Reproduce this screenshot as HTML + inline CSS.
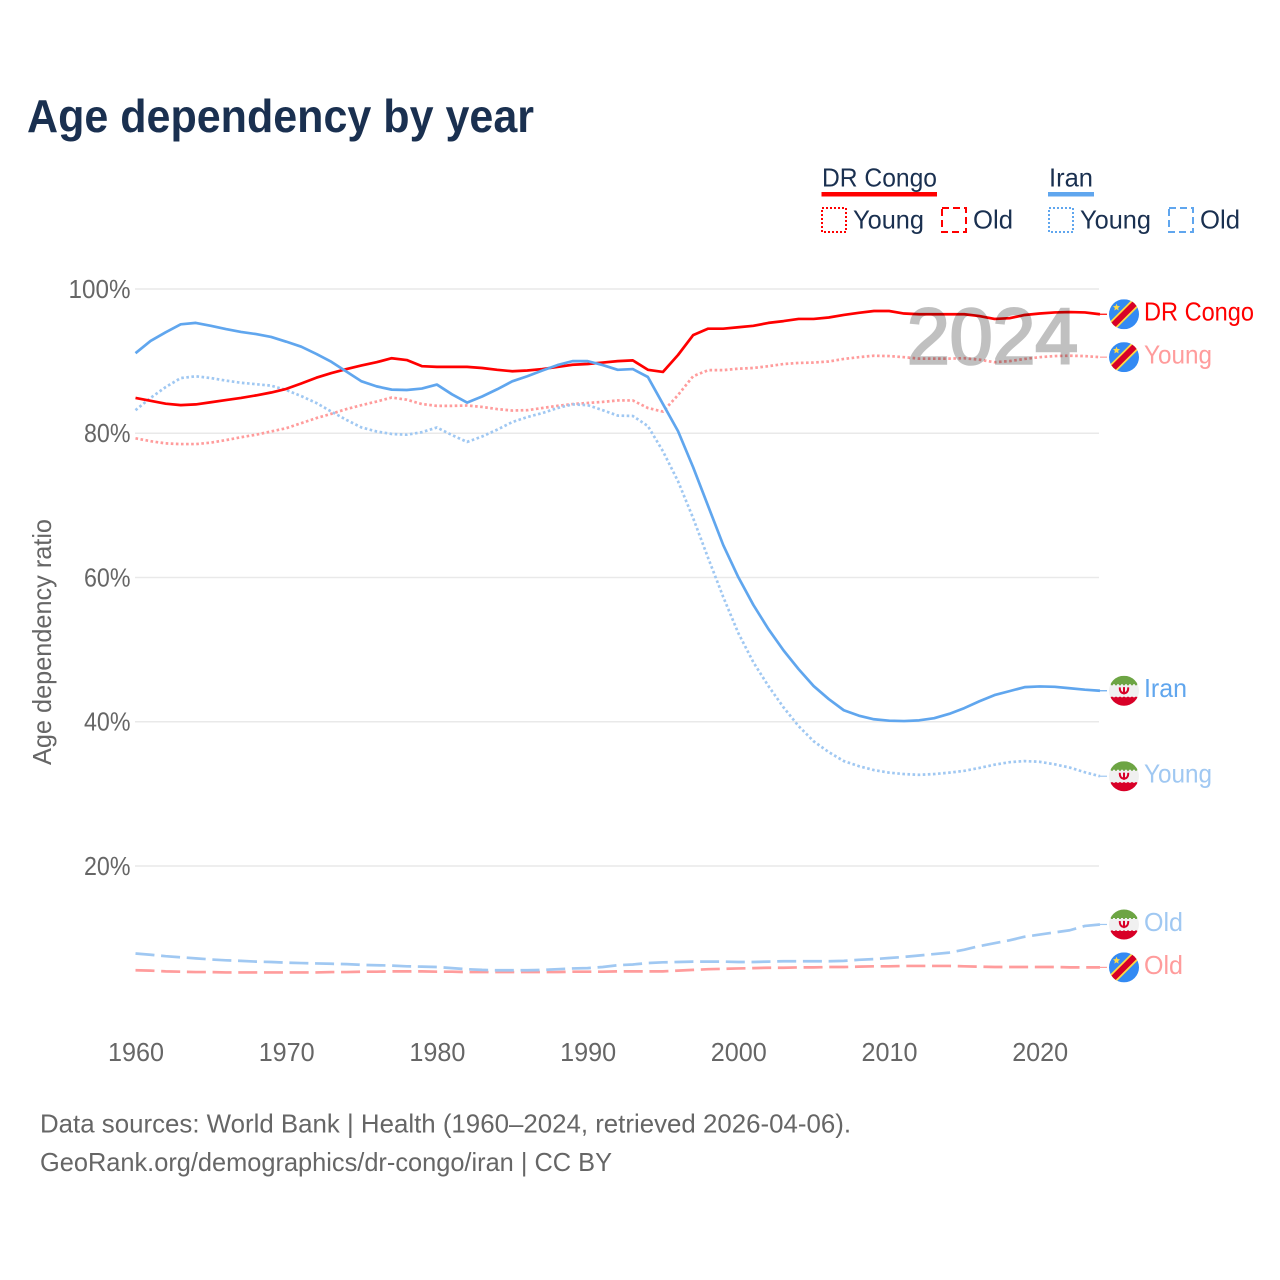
<!DOCTYPE html>
<html lang="en">
<head>
<meta charset="utf-8">
<title>Age dependency by year</title>
<style>
  html, body { margin: 0; padding: 0; background: #fff; }
  svg { display: block; font-family: "Liberation Sans", "DejaVu Sans", sans-serif; }
</style>
</head>
<body>
<svg id="chart" xmlns="http://www.w3.org/2000/svg" width="1280" height="1280" viewBox="0 0 1280 1280">
  <defs>
    <clipPath id="flag-clip"><circle cx="0" cy="0" r="15"></circle></clipPath>
    <symbol id="flag-drc" overflow="visible" viewBox="-15 -15 30 30" width="30" height="30">
      <g clip-path="url(#flag-clip)">
        <rect x="-15" y="-15" width="30" height="30" fill="#338af3"></rect>
        <line x1="-18" y1="18" x2="18" y2="-18" stroke="#ffda44" stroke-width="9.5"></line>
        <line x1="-18" y1="18" x2="18" y2="-18" stroke="#d80027" stroke-width="6"></line>
        <polygon points="-7.5,-10.6 -6.5,-8.2 -4,-8 -5.9,-6.3 -5.3,-3.8 -7.5,-5.1 -9.7,-3.8 -9.1,-6.3 -11,-8 -8.5,-8.2" fill="#ffda44"></polygon>
      </g>
    </symbol>
    <symbol id="flag-iran" overflow="visible" viewBox="-15 -15 30 30" width="30" height="30">
      <g clip-path="url(#flag-clip)">
        <rect x="-15" y="-15" width="30" height="30" fill="#f0f0f0"></rect>
        <rect x="-15" y="-15" width="30" height="9.5" fill="#6da544"></rect>
        <rect x="-15" y="6" width="30" height="10" fill="#d80027"></rect>
        <line x1="-15" y1="-5.5" x2="15" y2="-5.5" stroke="#f0f0f0" stroke-width="2" stroke-dasharray="2 2"></line>
        <line x1="-15" y1="5.5" x2="15" y2="5.5" stroke="#f0f0f0" stroke-width="2" stroke-dasharray="2 2"></line>
        <path d="M-4.2,-3.4 C-4.4,1 -2.2,2.4 0,2.4 C2.2,2.4 4.4,1 4.2,-3.4 M0,-3.6 L0,3.6" fill="none" stroke="#d80027" stroke-width="2"></path>
      </g>
    </symbol>
  </defs>

  <text x="27" y="132" font-size="46" font-weight="700" fill="#1a3050" textLength="507" lengthAdjust="spacingAndGlyphs">Age dependency by year</text>

  <g>
    <text x="822" y="186.5" font-size="26" fill="#1a3050" textLength="115" lengthAdjust="spacingAndGlyphs">DR Congo</text>
    <rect x="821.5" y="192" width="115.5" height="4.5" fill="#ff0000"></rect>
    <rect x="822" y="208" width="24" height="24" fill="none" stroke="#ff0000" stroke-width="2" stroke-dasharray="2 2"></rect>
    <text x="853" y="228.5" font-size="26" fill="#1a3050" textLength="71" lengthAdjust="spacingAndGlyphs">Young</text>
    <rect x="942" y="208" width="24" height="24" fill="none" stroke="#ff0000" stroke-width="2" stroke-dasharray="7 4"></rect>
    <text x="973" y="228.5" font-size="26" fill="#1a3050" textLength="40" lengthAdjust="spacingAndGlyphs">Old</text>

    <text x="1049" y="186.5" font-size="26" fill="#1a3050" textLength="44" lengthAdjust="spacingAndGlyphs">Iran</text>
    <rect x="1048" y="192" width="46" height="4.5" fill="#60a6ee"></rect>
    <rect x="1049" y="208" width="24" height="24" fill="none" stroke="#60a6ee" stroke-width="2" stroke-dasharray="2 2"></rect>
    <text x="1080" y="228.5" font-size="26" fill="#1a3050" textLength="71" lengthAdjust="spacingAndGlyphs">Young</text>
    <rect x="1169" y="208" width="24" height="24" fill="none" stroke="#60a6ee" stroke-width="2" stroke-dasharray="7 4"></rect>
    <text x="1200" y="228.5" font-size="26" fill="#1a3050" textLength="40" lengthAdjust="spacingAndGlyphs">Old</text>
  </g>

  <text transform="translate(51,765) rotate(-90)" font-size="26" fill="#666666" textLength="246" lengthAdjust="spacingAndGlyphs">Age dependency ratio</text>

  <g id="grid"></g>
  <g id="y-ticks"></g>
  <g id="x-ticks"></g>
  <g id="series"></g>
  <g id="end-labels"></g>

  <text x="907" y="363.5" font-size="79" fill="#000000" stroke="#000000" stroke-width="2.6" opacity="0.245" textLength="171" lengthAdjust="spacingAndGlyphs">2024</text>

  <text x="40" y="1132.5" font-size="26" fill="#666666" textLength="811" lengthAdjust="spacingAndGlyphs">Data sources: World Bank | Health (1960–2024, retrieved 2026-04-06).</text>
  <text x="40" y="1171" font-size="26" fill="#666666" textLength="572" lengthAdjust="spacingAndGlyphs">GeoRank.org/demographics/dr-congo/iran | CC BY</text>
</svg>

<script>
const years = [1960,1961,1962,1963,1964,1965,1966,1967,1968,1969,1970,1971,1972,1973,1974,1975,1976,1977,1978,1979,1980,1981,1982,1983,1984,1985,1986,1987,1988,1989,1990,1991,1992,1993,1994,1995,1996,1997,1998,1999,2000,2001,2002,2003,2004,2005,2006,2007,2008,2009,2010,2011,2012,2013,2014,2015,2016,2017,2018,2019,2020,2021,2022,2023,2024];
const drCongoTotal = [84.9,84.5,84.1,83.9,84.0,84.3,84.6,84.9,85.25,85.65,86.15,86.9,87.7,88.35,88.9,89.4,89.85,90.4,90.15,89.3,89.2,89.2,89.2,89.05,88.8,88.6,88.7,88.9,89.2,89.5,89.6,89.8,90.0,90.1,88.8,88.5,90.85,93.6,94.5,94.5,94.7,94.9,95.3,95.55,95.85,95.85,96.05,96.4,96.7,96.95,96.95,96.6,96.5,96.5,96.5,96.5,96.25,95.85,95.95,96.4,96.6,96.75,96.8,96.75,96.5];
const drCongoYoung = [79.3,78.9,78.6,78.5,78.5,78.7,79.05,79.45,79.8,80.25,80.7,81.4,82.1,82.7,83.35,83.9,84.4,84.95,84.65,84.05,83.8,83.8,83.85,83.65,83.35,83.15,83.2,83.5,83.8,84.05,84.2,84.35,84.55,84.55,83.5,83.0,85.3,87.9,88.75,88.75,88.95,89.05,89.3,89.6,89.75,89.8,89.95,90.3,90.55,90.75,90.7,90.55,90.35,90.35,90.35,90.4,90.2,89.85,90.0,90.3,90.55,90.7,90.75,90.7,90.55];
const drCongoOld = [5.55,5.5,5.4,5.35,5.3,5.3,5.25,5.25,5.25,5.25,5.25,5.25,5.25,5.3,5.3,5.35,5.35,5.4,5.4,5.4,5.35,5.35,5.3,5.3,5.3,5.3,5.3,5.3,5.3,5.35,5.35,5.35,5.4,5.4,5.4,5.4,5.5,5.6,5.7,5.75,5.8,5.85,5.9,5.9,5.95,5.95,6.0,6.0,6.05,6.1,6.1,6.15,6.15,6.15,6.15,6.1,6.05,6.0,6.0,6.0,6.0,6.0,5.95,5.95,5.95];
const iranTotal = [91.1,92.8,94.0,95.1,95.3,94.9,94.45,94.05,93.75,93.35,92.7,92.0,91.0,89.9,88.55,87.2,86.5,86.05,86.0,86.2,86.75,85.4,84.25,85.1,86.1,87.2,87.9,88.7,89.45,90.0,90.0,89.45,88.8,88.9,87.8,84.05,80.3,75.3,69.9,64.5,60.05,56.2,52.85,49.9,47.3,44.95,43.15,41.6,40.85,40.35,40.15,40.1,40.2,40.5,41.1,41.9,42.85,43.7,44.25,44.8,44.9,44.85,44.65,44.45,44.3];
const iranYoung = [83.2,84.9,86.4,87.65,87.9,87.65,87.3,87.0,86.8,86.6,86.0,85.15,84.2,83.0,81.85,80.8,80.25,79.9,79.8,80.15,80.8,79.75,78.8,79.55,80.5,81.55,82.25,82.8,83.5,84.0,83.9,83.2,82.45,82.4,81.0,77.5,73.35,68.25,62.7,57.3,52.3,48.25,44.95,42.0,39.4,37.3,35.8,34.55,33.85,33.3,32.95,32.75,32.65,32.75,32.95,33.2,33.6,34.05,34.4,34.55,34.45,34.1,33.65,33.0,32.45];
const iranOld = [7.87,7.7,7.5,7.35,7.2,7.05,6.93,6.85,6.75,6.7,6.6,6.55,6.5,6.45,6.4,6.3,6.25,6.2,6.1,6.05,6.0,5.85,5.7,5.6,5.55,5.55,5.55,5.6,5.7,5.8,5.85,6.0,6.25,6.35,6.55,6.65,6.7,6.75,6.75,6.75,6.7,6.7,6.75,6.8,6.8,6.8,6.8,6.85,7.0,7.1,7.25,7.4,7.6,7.8,8.0,8.4,8.9,9.3,9.7,10.2,10.5,10.8,11.1,11.7,11.9];
const yTickValues = [20,40,60,80,100];
const yTickLabels = ['20%','40%','60%','80%','100%'];
const xTickValues = [1960,1970,1980,1990,2000,2010,2020];
const xTickLabels = ['1960','1970','1980','1990','2000','2010','2020'];
const endLabels = ['Old','Old','Young','Young','DR Congo','Iran'];

const NS = 'http://www.w3.org/2000/svg';
function xScale(year) { return 135.5 + (year - 1960) * 15.07; }
function yScale(value) { return 1010.3 - value * 7.213; }
function make(tag, attrs, parent) {
  const el = document.createElementNS(NS, tag);
  for (const k in attrs) el.setAttribute(k, attrs[k]);
  parent.appendChild(el);
  return el;
}

const gridGroup = document.getElementById('grid');
const yTickGroup = document.getElementById('y-ticks');
const xTickGroup = document.getElementById('x-ticks');
const seriesGroup = document.getElementById('series');
const labelGroup = document.getElementById('end-labels');

yTickValues.forEach(function (v, i) {
  const line = make('line', { x1: 135, x2: 1099, y1: yScale(v), y2: yScale(v), stroke: '#e9e9e9', 'stroke-width': 1.5 }, gridGroup);
  
  
  const label = make('text', { x: 130.5, y: yScale(v) + 8.8, 'text-anchor': 'end', 'font-size': 26, fill: '#666666', textLength: yTickLabels[i].length * 15.5, lengthAdjust: 'spacingAndGlyphs' }, yTickGroup);
  
  
  label.textContent = yTickLabels[i];
});

xTickValues.forEach(function (v, i) {
  const label = make('text', { x: xScale(v) + 0.5, y: 1061, 'text-anchor': 'middle', 'font-size': 26, fill: '#666666', textLength: 56, lengthAdjust: 'spacingAndGlyphs' }, xTickGroup);
  
  
  label.textContent = xTickLabels[i];
});

const seriesList = [
  { values: drCongoOld, color: '#ff9c9c', dash: '19 6.7', flag: 'flag-drc', labelIndex: 0, width: 39 },
  { values: iranOld, color: '#a0c8f2', dash: '19 6.7', flag: 'flag-iran', labelIndex: 1, width: 39 },
  { values: drCongoYoung, color: '#ff9c9c', dash: '2.6 2.5', flag: 'flag-drc', labelIndex: 2, width: 68 },
  { values: iranYoung, color: '#a0c8f2', dash: '2.6 2.5', flag: 'flag-iran', labelIndex: 3, width: 68 },
  { values: drCongoTotal, color: '#ff0000', dash: '', flag: 'flag-drc', labelIndex: 4, width: 110 },
  { values: iranTotal, color: '#60a6ee', dash: '', flag: 'flag-iran', labelIndex: 5, width: 43 }
];

seriesList.forEach(function (s) {
  const d = s.values.map(function (v, i) {
    return (i ? 'L' : 'M') + xScale(years[i]).toFixed(2) + ',' + yScale(v).toFixed(2);
  }).join(' ');
  const attrs = { d: d, fill: 'none', stroke: s.color, 'stroke-width': 2.7, 'stroke-linejoin': 'round' };
  if (s.dash) attrs['stroke-dasharray'] = s.dash;
  const path = make('path', attrs, seriesGroup);
  
  

  const lastValue = s.values[s.values.length - 1];
  const endY = yScale(lastValue);
  const endX = xScale(years[years.length - 1]);
  const connector = make('line', { x1: endX, x2: 1107, y1: endY, y2: endY, stroke: s.color, 'stroke-width': 1.2 }, labelGroup);
  
  

  const flag = make('use', { href: '#' + s.flag, x: 1109, y: endY - 15, width: 30, height: 30 }, labelGroup);
  
  

  const label = make('text', { x: 1144, y: endY + 6.4, 'font-size': 26, fill: s.color, textLength: s.width, lengthAdjust: 'spacingAndGlyphs' }, labelGroup);
  
  
  label.textContent = endLabels[s.labelIndex];
});
</script>
</body>
</html>
